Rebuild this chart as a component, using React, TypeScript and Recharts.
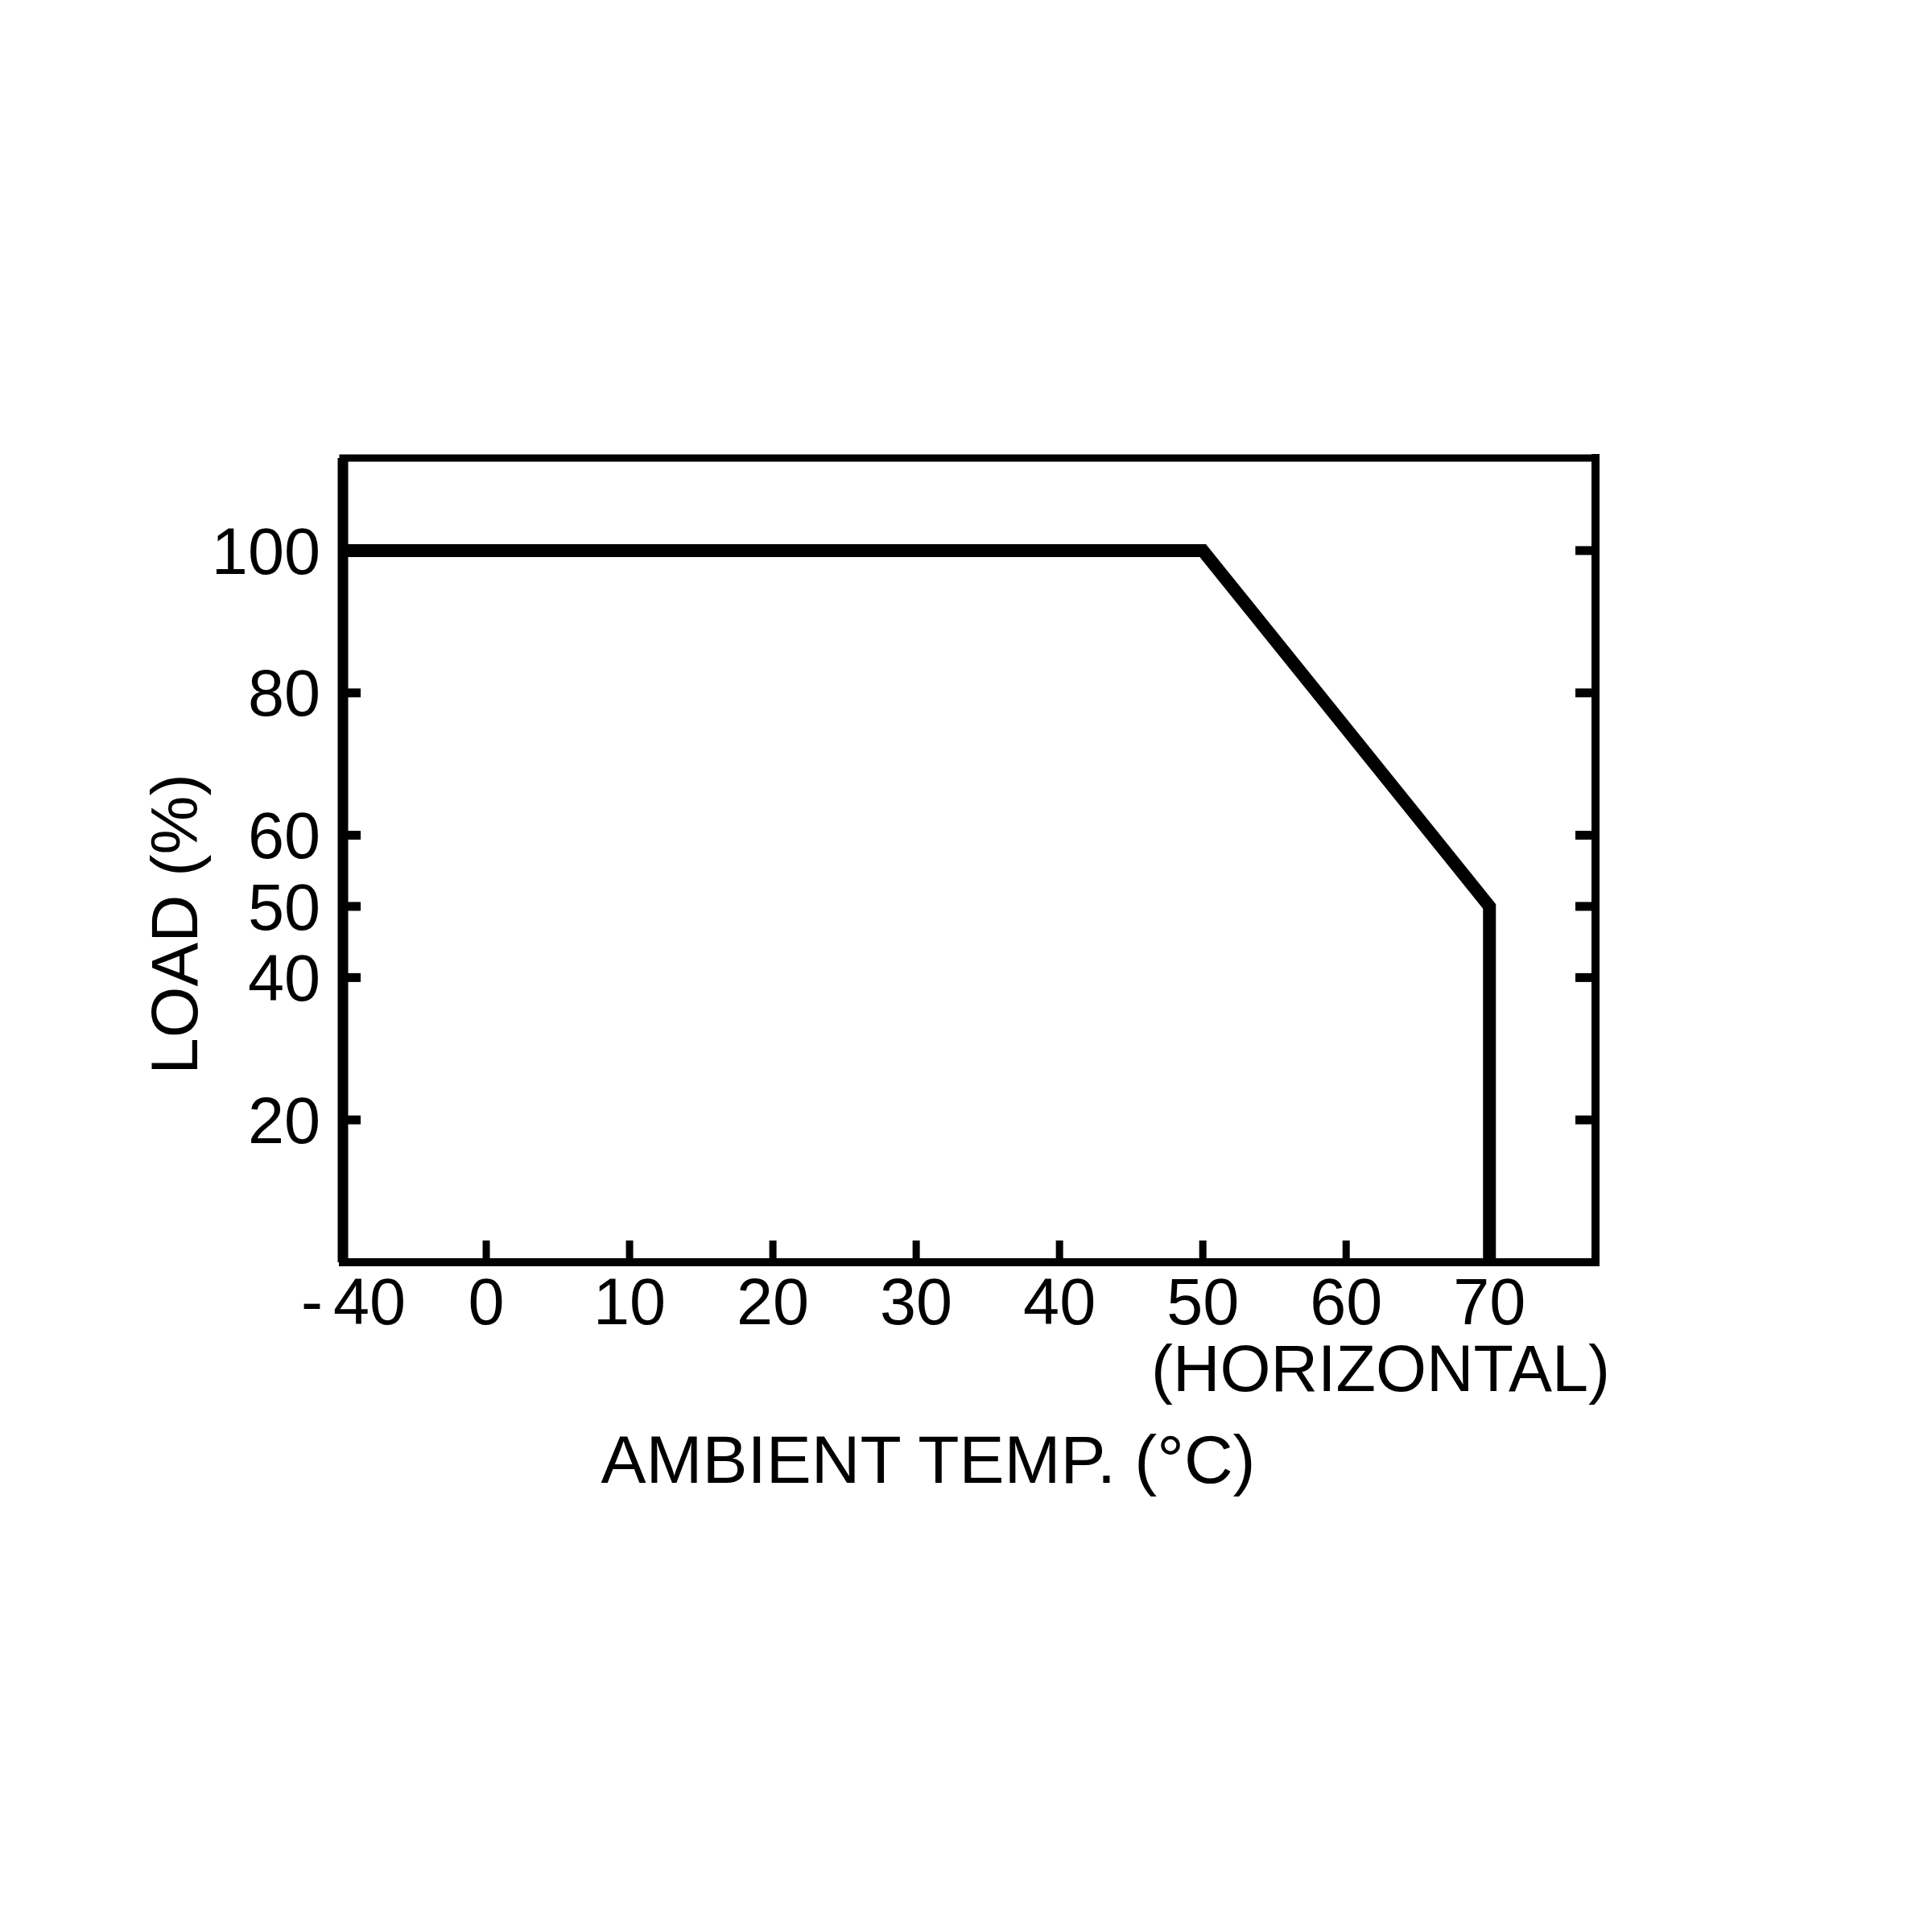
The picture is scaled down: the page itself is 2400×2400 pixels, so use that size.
import { Label, Line, LineChart, XAxis, YAxis } from 'recharts';

// derating curve: ambient temp (°C) against load (%)
const temps = [-40, 50, 70, 70];
const loads = [100, 100, 50, 0];

const tempTicks = [-40, 0, 10, 20, 30, 40, 50, 60, 70];
const loadTicks = [20, 40, 50, 60, 80, 100];

// the axis is broken below 0: the -40..0 span is drawn at a quarter of the scale
const toAxis = (t: number) => (t < 0 ? t / 4 : t);
const fromAxis = (p: number) => (p < 0 ? p * 4 : p);

const data = temps.map((t, i) => ({ x: toAxis(t), load: loads[i] }));

const X_DOMAIN = [-10, 77.4];
const Y_DOMAIN = [0, 113];
const FONT = '"Liberation Sans", Arial, Helvetica, sans-serif';
const INK = '#000';

function TempTick({ x, y, payload }: any) {
  const t = fromAxis(payload.value);
  const common = { y, dy: '0.71em', fontSize: 81, fontFamily: FONT, fill: INK };
  if (t < 0) {
    // "- 40" sits a little right of the frame corner, with a tight gap after the dash
    return (
      <g>
        <text x={x - 52} textAnchor="start" {...common}>-</text>
        <text x={x - 12} textAnchor="start" {...common}>{Math.abs(t)}</text>
      </g>
    );
  }
  return (
    <text x={x} textAnchor="middle" {...common}>
      {t}
    </text>
  );
}

function XTitles({ viewBox }: any) {
  const vb = viewBox || { x: 418, y: 1560, width: 1556 };
  return (
    <g fontFamily={FONT} fill={INK}>
      <text x={vb.x + vb.width + 18} y={vb.y + 160} textAnchor="end" fontSize={81}>
        (HORIZONTAL)
      </text>
      <text x={vb.x + 727} y={vb.y + 274} textAnchor="middle" fontSize={84}>
        AMBIENT TEMP. (°C)
      </text>
    </g>
  );
}

function YTitle({ viewBox }: any) {
  const vb = viewBox || { x: 417, y: 561, width: 1 };
  const x = vb.x + (vb.width || 0) - 181;
  const y = vb.y + 579;
  return (
    <text
      x={x}
      y={y}
      transform={`rotate(-90, ${x}, ${y})`}
      textAnchor="middle"
      fontFamily={FONT}
      fontSize={82}
      fill={INK}
    >
      LOAD (%)
    </text>
  );
}

export default function App() {
  return (
    <div style={{ width: 2392, height: 2392, background: '#fff' }}>
      <LineChart
        width={2392}
        height={2392}
        data={data}
        margin={{ top: 560, right: 417, bottom: 831, left: 417 }}
      >
        <XAxis
          dataKey="x"
          type="number"
          domain={X_DOMAIN}
          ticks={tempTicks.map(toAxis)}
          interval={0}
          allowDataOverflow
          height={1}
          tickSize={-27}
          tickMargin={46}
          tick={<TempTick />}
          tickLine={{ stroke: INK, strokeWidth: 9 }}
          axisLine={{ stroke: INK, strokeWidth: 10, strokeLinecap: 'square' }}
        >
          <Label content={<XTitles />} />
        </XAxis>
        <XAxis
          xAxisId="top"
          orientation="top"
          type="number"
          domain={X_DOMAIN}
          allowDataOverflow
          height={1}
          tick={false}
          tickLine={false}
          axisLine={{ stroke: INK, strokeWidth: 9, strokeLinecap: 'square' }}
        />
        <YAxis
          type="number"
          domain={Y_DOMAIN}
          ticks={loadTicks}
          interval={0}
          allowDataOverflow
          width={1}
          tickSize={-22}
          tickMargin={50}
          tick={{ fill: INK, fontSize: 81, fontFamily: FONT }}
          tickLine={{ stroke: INK, strokeWidth: 11 }}
          axisLine={{ stroke: INK, strokeWidth: 13 }}
        >
          <Label content={<YTitle />} />
        </YAxis>
        <YAxis
          yAxisId="right"
          orientation="right"
          type="number"
          domain={Y_DOMAIN}
          ticks={loadTicks}
          interval={0}
          allowDataOverflow
          width={1}
          tickSize={-25}
          tick={() => <g />}
          tickLine={{ stroke: INK, strokeWidth: 11 }}
          axisLine={{ stroke: INK, strokeWidth: 10, strokeLinecap: 'square' }}
        />
        <Line
          type="linear"
          dataKey="load"
          stroke={INK}
          strokeWidth={16}
          strokeLinejoin="miter"
          dot={false}
          activeDot={false}
          isAnimationActive={false}
        />
      </LineChart>
    </div>
  );
}
